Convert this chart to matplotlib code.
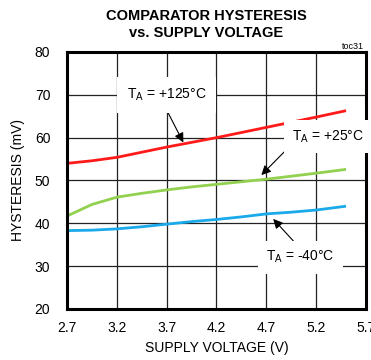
import matplotlib.pyplot as plt
from matplotlib.ticker import MultipleLocator

plt.rcParams['font.family'] = ['Liberation Sans', 'DejaVu Sans']

# supply voltage (V) and hysteresis (mV)
vcc = [2.7, 2.95, 3.2, 3.45, 3.7, 3.95, 4.2, 4.45, 4.7, 4.95, 5.2, 5.5]
hyst_125 = [54.0, 54.6, 55.4, 56.6, 57.8, 58.9, 60.0, 61.2, 62.4, 63.6, 64.8, 66.3]
hyst_25 = [41.7, 44.4, 46.1, 47.0, 47.8, 48.5, 49.1, 49.7, 50.3, 51.0, 51.7, 52.6]
hyst_m40 = [38.3, 38.4, 38.7, 39.2, 39.8, 40.4, 40.9, 41.5, 42.2, 42.6, 43.1, 44.0]

x_ticks = [2.7, 3.2, 3.7, 4.2, 4.7, 5.2, 5.7]

fig = plt.figure(figsize=(3.71, 3.60), dpi=100)
ax = fig.add_axes([0.1806, 0.1417, 0.8059, 0.7139])

ax.plot(vcc, hyst_125, color='#ff1a1a', lw=2.0, solid_capstyle='butt')
ax.plot(vcc, hyst_25, color='#92d050', lw=2.0, solid_capstyle='butt')
ax.plot(vcc, hyst_m40, color='#1aa9ea', lw=2.0, solid_capstyle='butt')

ax.set_xlim(2.7, 5.7)
ax.set_ylim(20, 80)
ax.set_xticks(x_ticks)
ax.set_xticklabels(['%.1f' % v for v in x_ticks])
ax.yaxis.set_major_locator(MultipleLocator(10))
ax.grid(True, color='#222222', lw=0.9)
ax.set_axisbelow(True)
ax.tick_params(length=0, labelsize=10)
ax.tick_params(axis='x', pad=9)
ax.tick_params(axis='y', pad=12)
for s in ax.spines.values():
    s.set_linewidth(2.2)

ax.set_xlabel('SUPPLY VOLTAGE (V)', fontsize=10, labelpad=4)
ax.set_ylabel('HYSTERESIS (mV)', fontsize=10, labelpad=7)

fig.text(0.555, 0.932, 'COMPARATOR HYSTERESIS\nvs. SUPPLY VOLTAGE',
         ha='center', va='center', fontsize=10.5, fontweight='bold',
         linespacing=1.2)
fig.text(0.98, 0.872, 'toc31', ha='right', va='center', fontsize=6.5)

box = dict(facecolor='white', edgecolor='none', pad=6)
arrow = dict(arrowstyle='-|>', color='black', lw=0.8, mutation_scale=14)

ax.annotate('', xy=(3.88, 58.3), xytext=(3.69, 66.9), arrowprops=arrow)
ax.text(3.70, 70.0, 'T$_\\mathregular{A}$ = +125°C', ha='center', va='center',
        fontsize=10, bbox=dict(facecolor='white', edgecolor='none', pad=7))

ax.annotate('', xy=(4.63, 50.8), xytext=(4.97, 58.8), arrowprops=arrow)
ax.text(5.32, 60.2, 'T$_\\mathregular{A}$ = +25°C', ha='center', va='center',
        fontsize=10, bbox=box)

ax.annotate('', xy=(4.75, 41.5), xytext=(4.99, 35.4), arrowprops=arrow)
ax.text(5.04, 32.1, 'T$_\\mathregular{A}$ = -40°C', ha='center', va='center',
        fontsize=10, bbox=box)

fig.savefig('out.png', dpi=100)
